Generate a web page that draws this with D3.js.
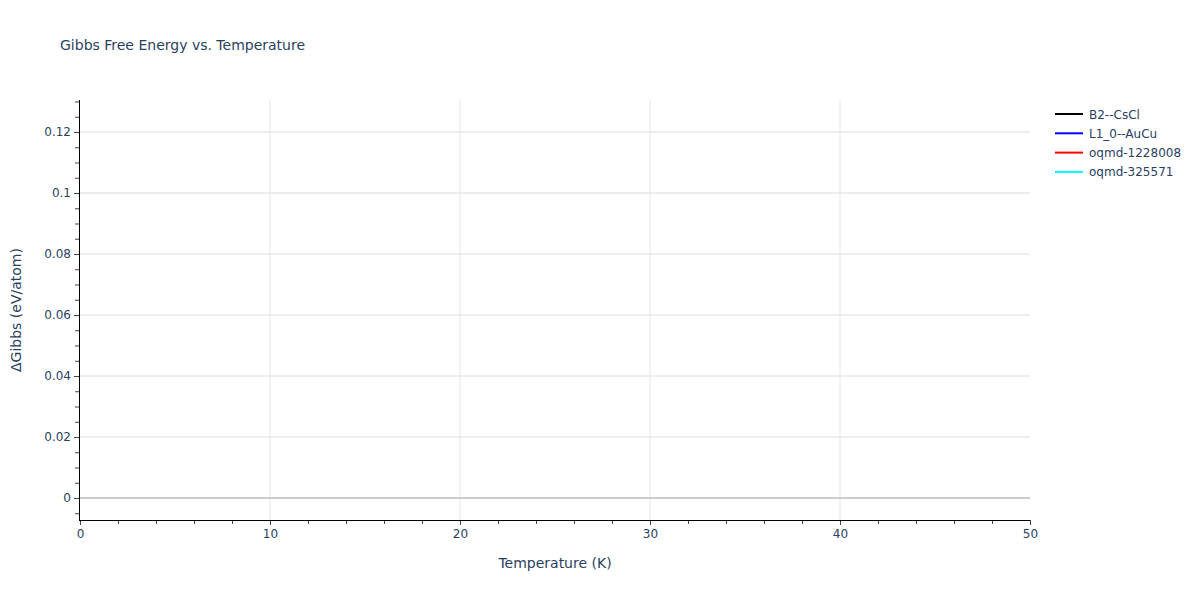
<!DOCTYPE html>
<html><head><meta charset="utf-8">
<script src="https://cdn.jsdelivr.net/npm/d3@7"></script>
<style>body{margin:0;background:#fff}svg{font-family:"DejaVu Sans",Verdana,sans-serif}</style>
</head><body><svg id="c" width="1200" height="600"></svg>
<script>
const seriesNames = ["B2--CsCl","L1_0--AuCu","oqmd-1228008","oqmd-325571"];
const seriesColors = ["black","blue","red","cyan"];
// No data points visible in the reference within the shown range
const temperatures = [];
const gB2 = [];
const gL10 = [];
const gOqmd1228008 = [];
const gOqmd325571 = [];
const seriesValues = [gB2,gL10,gOqmd1228008,gOqmd325571];
const xTicks = [0,10,20,30,40,50];
const yTicks = [0,0.02,0.04,0.06,0.08,0.1,0.12];
const yTickLabels = ["0","0.02","0.04","0.06","0.08","0.1","0.12"];

const svg = d3.select("#c");
const L=80,R=1030,T=100,B=520;
const x = d3.scaleLinear().domain([0,50]).range([L,R]);
const y = d3.scaleLinear().domain([-0.00721,0.13049]).range([B,T]);
const txt="#2a3f5f";
const FF="'DejaVu Sans',Verdana,sans-serif";

// grid
svg.append("g").selectAll("line").data(xTicks.filter(d=>d>0&&d<50)).join("line")
 .attr("x1",d=>x(d)).attr("x2",d=>x(d)).attr("y1",T).attr("y2",B).attr("stroke","#e6e6e6").attr("stroke-width",1);
svg.append("g").selectAll("line").data(yTicks.filter(d=>d!==0)).join("line")
 .attr("x1",L).attr("x2",R).attr("y1",d=>y(d)).attr("y2",d=>y(d)).attr("stroke","#dcdcdc").attr("stroke-width",1);
svg.append("line").attr("x1",L).attr("x2",R).attr("y1",y(0)).attr("y2",y(0)).attr("stroke","#cccccc").attr("stroke-width",2);

// lines
const line = d3.line().defined(d=>d[1]!=null).x(d=>x(d[0])).y(d=>y(d[1]));
seriesValues.forEach((vals,i)=>{
  svg.append("path").datum(temperatures.map((t,j)=>[t,vals[j]])).attr("d",line)
   .attr("fill","none").attr("stroke",seriesColors[i]).attr("stroke-width",2);
});

// x axis
const xAxis = svg.append("g").attr("transform",`translate(0,${B})`);
xAxis.call(d3.axisBottom(x).tickValues(d3.range(0,51,2)).tickSize(4).tickFormat(""));
xAxis.call(g=>g.select(".domain").remove());
const xMaj = svg.append("g").attr("transform",`translate(0,${B})`).call(d3.axisBottom(x).tickValues(xTicks).tickSize(5).tickPadding(4).tickFormat(d3.format("d")));
xMaj.select(".domain").remove();
xMaj.selectAll("text").attr("fill",txt).attr("font-size",12).attr("font-family",FF);
svg.append("line").attr("x1",L-1).attr("x2",R).attr("y1",B+0.5).attr("y2",B+0.5).attr("stroke","black").attr("stroke-width",1);

// y axis
const yMin = svg.append("g").attr("transform",`translate(${L-1},0)`).call(d3.axisLeft(y).tickValues(d3.range(-0.005,0.1301,0.005)).tickSize(4).tickFormat(""));
yMin.select(".domain").remove();
const yMaj = svg.append("g").attr("transform",`translate(${L-1},0)`).call(d3.axisLeft(y).tickValues(yTicks).tickSize(5).tickPadding(3).tickFormat((d,i)=>yTickLabels[i]));
yMaj.select(".domain").remove();
yMaj.selectAll("text").attr("fill",txt).attr("font-size",12).attr("font-family",FF);
svg.selectAll(".tick line").attr("stroke","#444");
svg.append("line").attr("x1",L-0.5).attr("x2",L-0.5).attr("y1",T).attr("y2",B+1).attr("stroke","black").attr("stroke-width",1);

// titles
svg.append("text").attr("x",60).attr("y",50).attr("fill",txt).attr("font-size",14).text("Gibbs Free Energy vs. Temperature");
svg.append("text").attr("x",(L+R)/2).attr("y",568).attr("text-anchor","middle").attr("fill",txt).attr("font-size",14).text("Temperature (K)");
svg.append("text").attr("transform",`translate(21,${(T+B)/2}) rotate(-90)`).attr("text-anchor","middle").attr("fill",txt).attr("font-size",14).text("ΔGibbs (eV/atom)");

// legend
const lg = svg.append("g").attr("transform","translate(1055,114)");
seriesNames.forEach((n,i)=>{
  const g = lg.append("g").attr("transform",`translate(0,${i*19.3})`);
  g.append("line").attr("x1",0).attr("x2",28).attr("y1",0).attr("y2",0).attr("stroke",seriesColors[i]).attr("stroke-width",2);
  g.append("text").attr("x",34).attr("y",4.5).attr("fill",txt).attr("font-size",12).text(n);
});
</script></body></html>
